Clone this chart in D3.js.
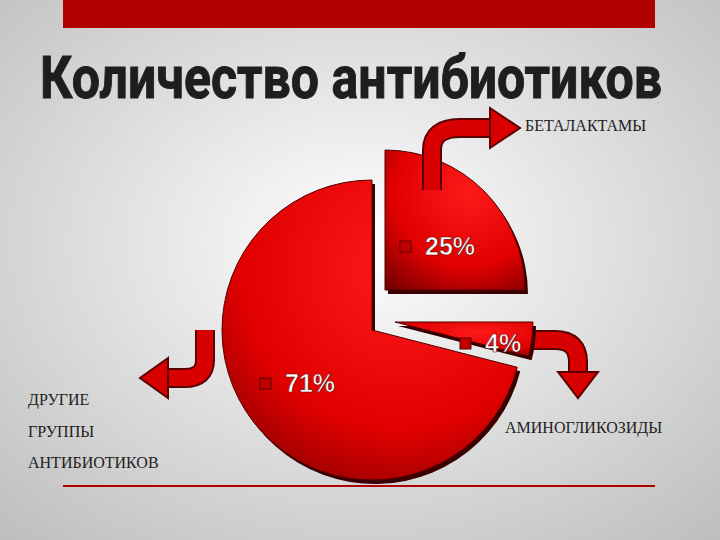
<!DOCTYPE html>
<html><head><meta charset="utf-8">
<script src="https://cdn.jsdelivr.net/npm/d3@7"></script>
<style>body{margin:0}svg{display:block}</style></head>
<body><svg width="720" height="540"></svg>
<script>
const categories = ["БЕТАЛАКТАМЫ", "АМИНОГЛИКОЗИДЫ", "ДРУГИЕ ГРУППЫ АНТИБИОТИКОВ"];
const values = [25, 4, 71];
const pctLabels = ["25%", "4%", "71%"];
const title = "Количество антибиотиков";

const svg = d3.select("svg");
const defs = svg.append("defs");
const bg = defs.append("radialGradient").attr("id","bg").attr("cx","50%").attr("cy","45%").attr("r","75%");
bg.append("stop").attr("offset","0%").attr("stop-color","#ffffff");
bg.append("stop").attr("offset","100%").attr("stop-color","#bdbdbd");
const rg = defs.append("radialGradient").attr("id","red").attr("cx","60%").attr("cy","30%").attr("r","90%");
rg.append("stop").attr("offset","0%").attr("stop-color","#ff1a1a");
rg.append("stop").attr("offset","60%").attr("stop-color","#e00000");
rg.append("stop").attr("offset","100%").attr("stop-color","#700000");

svg.append("rect").attr("width",720).attr("height",540).attr("fill","url(#bg)");
svg.append("rect").attr("x",63).attr("y",0).attr("width",592).attr("height",28).attr("fill","#b00000");
svg.append("line").attr("x1",63).attr("x2",655).attr("y1",486).attr("y2",486).attr("stroke","#b00000").attr("stroke-width",2);
svg.append("text").attr("x",40).attr("y",98).attr("textLength",622).attr("lengthAdjust","spacingAndGlyphs")
  .attr("font-family","Liberation Sans Narrow, Roboto, sans-serif").attr("font-weight","bold")
  .attr("font-size",60).attr("fill","#1e1e1e").attr("stroke","#1e1e1e").attr("stroke-width",1)
  .text(title);

function arrow(d, head){
  svg.append("path").attr("d",d).attr("fill","none").attr("stroke","#5a0000").attr("stroke-width",20);
  svg.append("path").attr("d",d).attr("fill","none").attr("stroke","#d80000").attr("stroke-width",16);
  svg.append("path").attr("d",head).attr("fill","#d80000").attr("stroke","#5a0000").attr("stroke-width",2);
}
arrow("M530,340 L555,340 Q578,340 578,362 L578,372", "M558,372 L578,398 L598,372 Z");

const pie = d3.pie().sort(null).value(d=>d)(values);
const centers = [[385,290,140],[395,322,138],[372,330,150]];
const labelPos = [[425,255],[485,352],[285,392]];
pie.forEach((p,i)=>{
  const [cx,cy,r] = centers[i];
  const arc = d3.arc().innerRadius(0).outerRadius(r);
  const g = svg.append("g").attr("transform",`translate(${cx},${cy})`);
  g.append("path").attr("d",arc(p)).attr("fill","#3a0000").attr("transform","translate(3,4)");
  g.append("path").attr("d",arc(p)).attr("fill","url(#red)").attr("stroke","#500000").attr("stroke-width",1);
});
pie.forEach((p,i)=>{
  const [lx,ly] = labelPos[i];
  svg.append("rect").attr("x",lx-25).attr("y",ly-14).attr("width",11).attr("height",11)
    .attr("fill","#c00000").attr("stroke","#600000");
  svg.append("text").attr("x",lx).attr("y",ly).attr("font-family","Liberation Sans, Arial, sans-serif")
    .attr("font-weight","bold").attr("font-size",25).attr("fill","#fff")
    .attr("stroke","#600000").attr("stroke-width",0.6).text(pctLabels[i]);
});
arrow("M432,190 L432,150 Q432,128 460,128 L490,128", "M490,108 L520,128 L490,148 Z");
arrow("M205,330 L205,360 Q205,378 185,378 L168,378", "M168,358 L140,378 L168,398 Z");

const lab = (t,x,y)=>svg.append("text").attr("x",x).attr("y",y).attr("font-family","Liberation Serif, serif")
  .attr("font-size",16).attr("fill","#222").text(t);
lab("БЕТАЛАКТАМЫ",525,131);
lab("АМИНОГЛИКОЗИДЫ",505,433);
lab("ДРУГИЕ",28,405);
lab("ГРУППЫ",28,437);
lab("АНТИБИОТИКОВ",28,468);
</script></body></html>
